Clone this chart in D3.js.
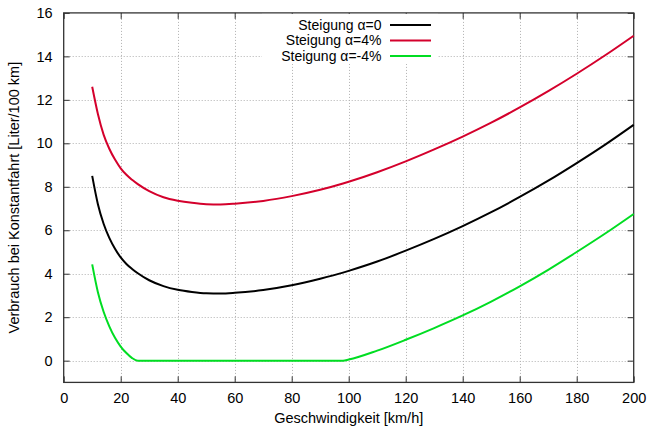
<!DOCTYPE html>
<html>
<head>
<meta charset="utf-8">
<script src="https://cdn.jsdelivr.net/npm/d3@7"></script>
<style>
  body { margin: 0; background: #fff; }
  text { font-family: "Liberation Sans", Arial, sans-serif; }
</style>
</head>
<body>
<div id="chart"></div>
<script>
// speeds in km/h
const speeds = [10, 12, 14, 16, 18, 20, 22, 24, 26, 30, 35, 40, 45, 50, 55, 60, 70, 80, 90, 98, 100,
  110, 120, 130, 140, 150, 160, 170, 180, 190, 200];

// consumption, litres / 100 km
const flat = [8.5, 7.2, 6.3, 5.65, 5.15, 4.75, 4.45, 4.22, 4.02, 3.7, 3.43, 3.26, 3.16, 3.1, 3.09, 3.12,
  3.25, 3.47, 3.77, 4.05, 4.13, 4.56, 5.06, 5.6, 6.19, 6.83, 7.53, 8.28, 9.09, 9.94, 10.85];
const uphill = [12.6, 11.35, 10.4, 9.75, 9.25, 8.85, 8.55, 8.32, 8.12, 7.8, 7.52, 7.36, 7.26, 7.2, 7.19, 7.22,
  7.35, 7.57, 7.86, 8.15, 8.23, 8.67, 9.17, 9.72, 10.31, 10.95, 11.65, 12.4, 13.2, 14.05, 14.95];
const downhill = [4.43, 3.15, 2.25, 1.58, 1.05, 0.65, 0.35, 0.12, 0, 0, 0, 0, 0, 0, 0, 0,
  0, 0, 0, 0, 0.05, 0.46, 0.96, 1.5, 2.08, 2.72, 3.42, 4.18, 5.0, 5.85, 6.75];

const seriesNames = ["Steigung \u03b1=0", "Steigung \u03b1=4%", "Steigung \u03b1=-4%"];
const seriesColors = ["#000000", "#d4002c", "#00dd22"];
const xTicks = d3.range(0, 201, 20);
const yTicks = d3.range(0, 17, 2);

const W = 649, H = 427;
const margin = { top: 12.9, right: 15.3, bottom: 44.6, left: 63.7 };
const fontSize = 14.5;

const x = d3.scaleLinear().domain([0, 200]).range([margin.left, W - margin.right]);
const y = d3.scaleLinear().domain([-1, 16]).range([H - margin.bottom, margin.top]);

const svg = d3.select("#chart").append("svg")
  .attr("width", W)
  .attr("height", H);

// grid
svg.append("g")
  .attr("stroke", "#b0b0b0")
  .attr("stroke-width", 1)
  .attr("stroke-dasharray", "1,2")
  .call(g => g.selectAll("line.v")
    .data(xTicks.filter(d => d > 0 && d < 200))
    .join("line")
    .attr("class", "v")
    .attr("x1", d => Math.round(x(d)) + 0.5)
    .attr("x2", d => Math.round(x(d)) + 0.5)
    .attr("y1", y(16))
    .attr("y2", y(-1)))
  .call(g => g.selectAll("line.h")
    .data(yTicks.filter(d => d < 16))
    .join("line")
    .attr("class", "h")
    .attr("x1", x(0))
    .attr("x2", x(200))
    .attr("y1", d => Math.round(y(d)) + 0.5)
    .attr("y2", d => Math.round(y(d)) + 0.5));

// axes: inward ticks, mirrored on top and right
const tickLen = 6;
const axisColor = "#333";

const axBottom = svg.append("g")
  .attr("transform", `translate(0,${y(-1)})`)
  .call(d3.axisBottom(x).tickValues(xTicks).tickSize(-tickLen).tickPadding(10));
const axTop = svg.append("g")
  .attr("transform", `translate(0,${y(16)})`)
  .call(d3.axisTop(x).tickValues(xTicks).tickSize(-tickLen).tickFormat(""));
const axLeft = svg.append("g")
  .attr("transform", `translate(${x(0)},0)`)
  .call(d3.axisLeft(y).tickValues(yTicks).tickSize(-tickLen).tickPadding(11));
const axRight = svg.append("g")
  .attr("transform", `translate(${x(200)},0)`)
  .call(d3.axisRight(y).tickValues(yTicks).tickSize(-tickLen).tickFormat(""));

[axBottom, axTop, axLeft, axRight].forEach(g => {
  g.select(".domain").remove();
  g.selectAll(".tick line").attr("stroke", axisColor);
  g.selectAll("text").attr("font-size", fontSize).attr("fill", "#000");
});

svg.append("rect")
  .attr("x", x(0))
  .attr("y", y(16))
  .attr("width", x(200) - x(0))
  .attr("height", y(-1) - y(16))
  .attr("fill", "none")
  .attr("stroke", axisColor)
  .attr("stroke-width", 1.3);

// axis titles
svg.append("text")
  .attr("x", (x(0) + x(200)) / 2)
  .attr("y", 423)
  .attr("text-anchor", "middle")
  .attr("font-size", fontSize)
  .text("Geschwindigkeit [km/h]");

svg.append("text")
  .attr("transform", `translate(19,${(y(16) + y(-1)) / 2}) rotate(-90)`)
  .attr("text-anchor", "middle")
  .attr("font-size", fontSize)
  .text("Verbrauch bei Konstantfahrt [Liter/100 km]");

// legend box (hides the grid behind it)
svg.append("rect")
  .attr("x", 262)
  .attr("y", y(16) + 1)
  .attr("width", 176)
  .attr("height", 50)
  .attr("fill", "#fff");

// curves
const line = d3.line()
  .x(d => x(d[0]))
  .y(d => y(d[1]))
  .curve(d3.curveMonotoneX);

const seriesData = [flat, uphill, downhill];
svg.append("g")
  .selectAll("path")
  .data(seriesData)
  .join("path")
  .attr("fill", "none")
  .attr("stroke", (d, i) => seriesColors[i])
  .attr("stroke-width", 2)
  .attr("d", vals => line(speeds.map((s, i) => [s, vals[i]])));

// legend
const legend = svg.append("g")
  .selectAll("g")
  .data(seriesNames)
  .join("g")
  .attr("transform", (d, i) => `translate(0,${25 + i * 15.5})`);

legend.append("text")
  .attr("x", 381.5)
  .attr("dy", "0.35em")
  .attr("text-anchor", "end")
  .attr("font-size", 14)
  .text(d => d);

legend.append("line")
  .attr("x1", 390)
  .attr("x2", 431)
  .attr("stroke", (d, i) => seriesColors[i])
  .attr("stroke-width", 2);
</script>
</body>
</html>
